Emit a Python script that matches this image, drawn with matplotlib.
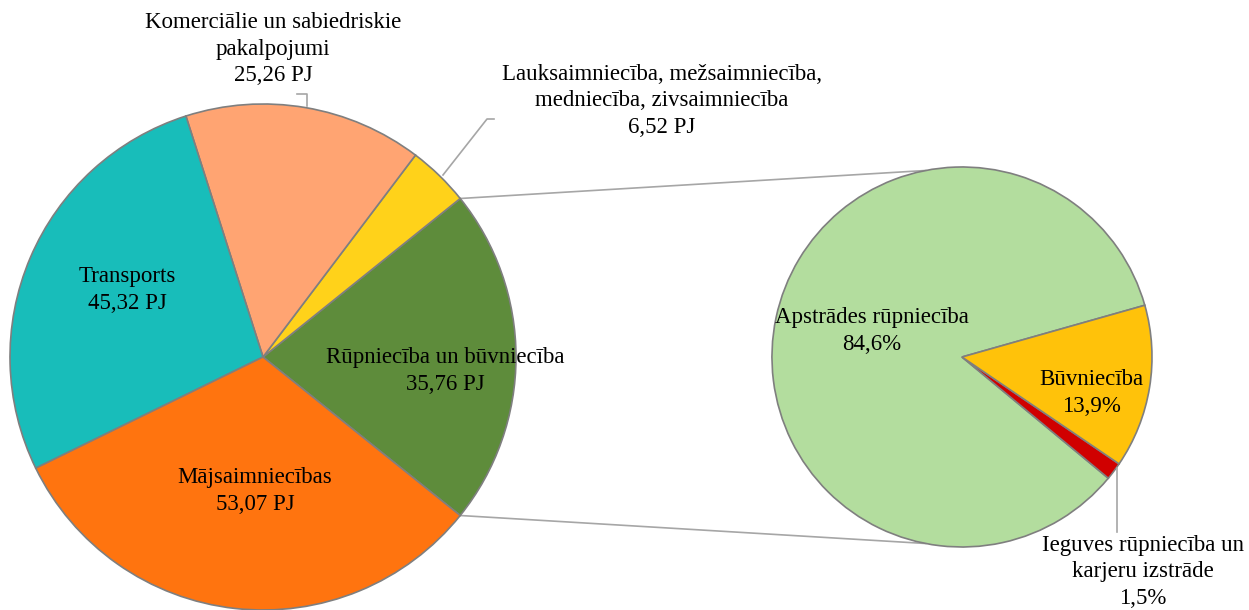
import matplotlib
matplotlib.use("Agg")
import matplotlib.pyplot as plt
import numpy as np

# ---- data ----
main_labels = ["Rūpniecība un būvniecība", "Lauksaimniecība, mežsaimniecība,\nmedniecība, zivsaimniecība",
               "Komerciālie un sabiedriskie\npakalpojumi", "Transports", "Mājsaimniecības"]
main_values = [35.76, 6.52, 25.26, 45.32, 53.07]
main_colors = ["#5E8C3B", "#FFD21A", "#FFA472", "#18BDBA", "#FF740F"]

sub_labels = ["Apstrādes rūpniecība", "Ieguves rūpniecība un\nkarjeru izstrāde", "Būvniecība"]
sub_values = [84.6, 1.5, 13.9]
sub_colors = ["#B3DD9E", "#D00000", "#FFC20A"]

W, H = 1249, 610
fig = plt.figure(figsize=(W / 100, H / 100), dpi=100)
ax = fig.add_axes([0, 0, 1, 1])

def Y(y):
    return H - y

c1 = (263, Y(357)); r1 = 253
c2 = (962, Y(357)); r2 = 190

total = sum(main_values)
start1 = -360 * main_values[0] / total / 2
wedges1, _ = ax.pie(main_values, colors=main_colors, startangle=start1, counterclock=True,
                    center=c1, radius=r1,
                    wedgeprops=dict(edgecolor="#7F7F7F", linewidth=1.2))

start2 = 15.8
wedges2, _ = ax.pie(sub_values, colors=sub_colors, startangle=start2, counterclock=True,
                    center=c2, radius=r2, explode=[0.045, 0, 0],
                    wedgeprops=dict(edgecolor="#7F7F7F", linewidth=1.2))

ax.set_xlim(0, W)
ax.set_ylim(0, H)
ax.set_aspect("equal")
ax.axis("off")

# connector lines between the pies
a_top = np.deg2rad(-start1)
a_bot = np.deg2rad(start1)
p_top = (c1[0] + r1 * np.cos(a_top), c1[1] + r1 * np.sin(a_top))
p_bot = (c1[0] + r1 * np.cos(a_bot), c1[1] + r1 * np.sin(a_bot))
q_top = (c2[0] + r2 * np.cos(np.deg2rad(101)), c2[1] + r2 * np.sin(np.deg2rad(101)))
q_bot = (c2[0] + r2 * np.cos(np.deg2rad(-101)), c2[1] + r2 * np.sin(np.deg2rad(-101)))
ax.plot([p_top[0], q_top[0]], [p_top[1], q_top[1]], color="#A6A6A6", lw=1.2, zorder=0)
ax.plot([p_bot[0], q_bot[0]], [p_bot[1], q_bot[1]], color="#A6A6A6", lw=1.2, zorder=0)

fnt = dict(family="Liberation Serif", fontsize=16.5, color="black",
           ha="center", va="center", linespacing=1.32)

def fmt(v):
    return f"{v:.2f}".replace(".", ",") + " PJ"

def pct(v):
    return f"{v:.1f}".replace(".", ",") + "%"

# main pie labels
ax.text(445, Y(371), f"{main_labels[0]}\n{fmt(main_values[0])}", **fnt)
ax.text(662, Y(101), f"{main_labels[1]}\n{fmt(main_values[1])}", **fnt)
ax.text(273, Y(49), f"{main_labels[2]}\n{fmt(main_values[2])}", **fnt)
ax.text(127, Y(290), f"{main_labels[3]}\n{fmt(main_values[3])}", **fnt)
ax.text(255, Y(491), f"{main_labels[4]}\n{fmt(main_values[4])}", **fnt)

# leader lines
ax.plot([297, 307, 307], [Y(94), Y(94), Y(106)], color="#A6A6A6", lw=1.2)
ax.plot([494, 487, 443], [Y(119), Y(119), Y(175)], color="#A6A6A6", lw=1.2)
ax.plot([1117, 1117], [Y(468), Y(532)], color="#A6A6A6", lw=1.2)

# sub pie labels
ax.text(872, Y(331), f"{sub_labels[0]}\n{pct(sub_values[0])}", **fnt)
ax.text(1091, Y(393), f"{sub_labels[2]}\n{pct(sub_values[2])}", **fnt)
ax.text(1143, Y(572), f"{sub_labels[1]}\n{pct(sub_values[1])}", **fnt)

fig.savefig("out.png", dpi=100)
